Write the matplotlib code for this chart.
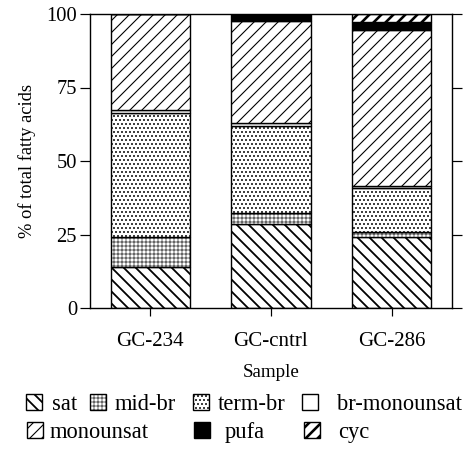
import matplotlib
matplotlib.use("Agg")
import matplotlib.pyplot as plt
from matplotlib.patches import Rectangle
import numpy as np

# data (% of total fatty acids)
samples = ["GC-234", "GC-cntrl", "GC-286"]
sat = [14.0, 28.6, 24.3]
mid_br = [10.0, 3.7, 1.7]
term_br = [42.3, 29.7, 14.8]
br_monounsat = [1.0, 1.0, 0.7]
monounsat = [32.7, 34.6, 53.1]
pufa = [0.0, 2.4, 2.8]
cyc = [0.0, 0.0, 2.6]

groups = ["sat", "mid-br", "term-br", "br-monounsat", "monounsat", "pufa", "cyc"]
series = [sat, mid_br, term_br, br_monounsat, monounsat, pufa, cyc]

# look of each group: face, hatch, hatch line width
styles = {
    "sat": ("white", "\\\\", 1.8),
    "mid-br": ("white", "+++", 0.6),
    "term-br": ("white", "...", 1.1),
    "br-monounsat": ("white", "", 1.0),
    "monounsat": ("white", "//", 1.1),
    "pufa": ("black", "", 1.0),
    "cyc": ("white", "//", 2.6),
}

DPI = 72  # 1 pt = 1 px, hatch cell = 72 px
W, H = 465, 449
plt.rcParams["font.family"] = ["Liberation Serif", "DejaVu Serif"]
plt.rcParams["hatch.color"] = "black"

fig = plt.figure(figsize=(W / DPI, H / DPI), dpi=DPI)
ax = fig.add_axes([90 / W, 1 - 308 / H, (452 - 90) / W, (308 - 14) / H])


def make_patch_lw(patch, lw):
    if hasattr(patch, "set_hatch_linewidth"):
        patch.set_hatch_linewidth(lw)


x = np.arange(len(samples))
bottom = np.zeros(len(samples))
for name, vals in zip(groups, series):
    face, hatch, hlw = styles[name]
    with plt.rc_context({"hatch.linewidth": hlw}):
        bars = ax.bar(x, vals, width=0.66, bottom=bottom, color=face,
                      edgecolor="black", linewidth=1.4, hatch=hatch)
    for b in bars:
        make_patch_lw(b, hlw)
    bottom += np.array(vals)

ax.set_xlim(-0.5, 2.5)
ax.set_ylim(0, 100)
ax.set_yticks([0, 25, 50, 75, 100])
ax.set_xticks(x)
ax.set_xticklabels(samples)
for s in ax.spines.values():
    s.set_linewidth(1.4)
ax.tick_params(axis="y", direction="out", length=10, width=1.2, pad=3,
               labelsize=20.5, right=True)
ax.tick_params(axis="x", direction="out", length=8, width=1.2, pad=16,
               labelsize=21)
ax.set_ylabel("% of total fatty acids", fontsize=18.5, labelpad=10)
ax.set_xlabel("Sample", fontsize=19, labelpad=13)

# legend laid out by hand like the original
legend_pos = {
    "sat": (26, 1, 52),
    "mid-br": (90, 1, 115),
    "term-br": (193, 1, 218),
    "br-monounsat": (302, 1, 337),
    "monounsat": (27, 2, 50),
    "pufa": (194, 2, 225),
    "cyc": (304, 2, 338),
}
row_base = {1: 410, 2: 438}
box = 16
for name in groups:
    face, hatch, hlw = styles[name]
    hx, row, tx = legend_pos[name]
    yb = row_base[row]
    with plt.rc_context({"hatch.linewidth": hlw}):
        r = Rectangle((hx / W, 1 - yb / H), box / W, box / H,
                      transform=fig.transFigure, facecolor=face,
                      edgecolor="black", linewidth=1.4, hatch=hatch)
    make_patch_lw(r, hlw)
    fig.add_artist(r)
    fig.text(tx / W, 1 - yb / H, name, fontsize=22.5, va="baseline",
             ha="left")

fig.savefig("out.png", dpi=DPI)
